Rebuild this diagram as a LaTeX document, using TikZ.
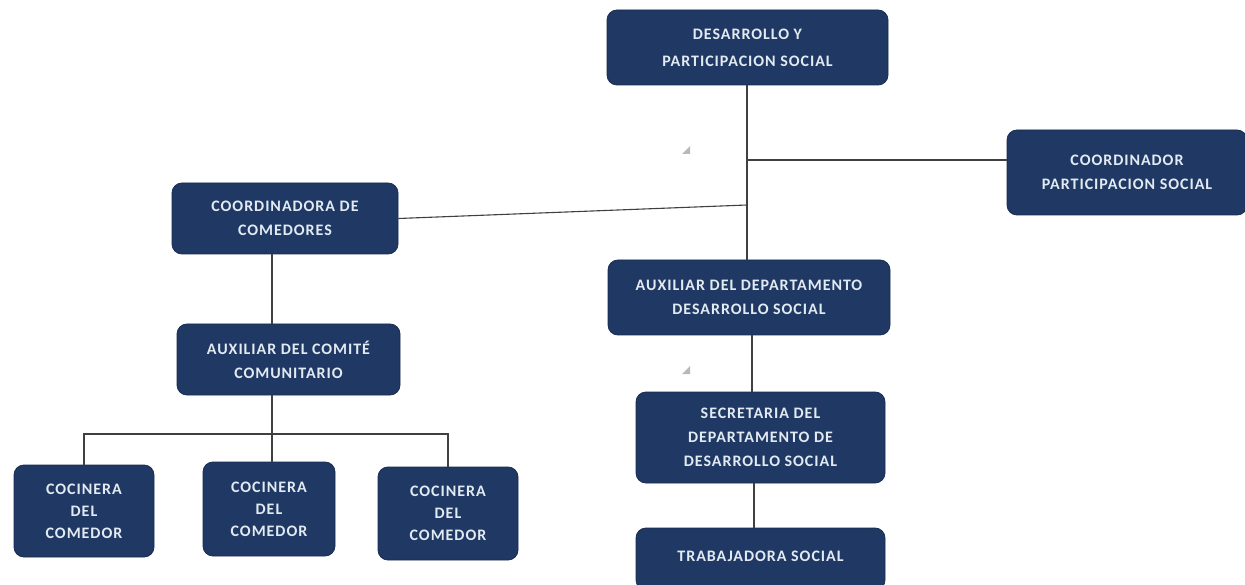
\documentclass[tikz,border=0pt]{standalone}
\usepackage{fontspec}
\setmainfont{Carlito}[LetterSpace=6]
\definecolor{navy}{HTML}{1F3864}
\definecolor{boxtext}{HTML}{E2EAF2}
\definecolor{linegray}{HTML}{404040}
\begin{document}
\begin{tikzpicture}[x=1pt,y=-1pt,
  orgbox/.style={draw=navy!80!black, line width=0.8pt, fill=navy, rounded corners=10pt,
    text=boxtext, font=\fontsize{16}{24}\selectfont\bfseries, align=center, inner sep=0pt},
  cookbox/.style={orgbox, font=\fontsize{16}{22}\selectfont\bfseries},
  link/.style={draw=linegray, line width=1.1pt}]
\useasboundingbox (0,0) rectangle (1245,585);
\fill[white] (0,0) rectangle (1245,585);
% boxes
\node[orgbox, minimum width=281pt, minimum height=75pt, font=\fontsize{16}{27}\selectfont\bfseries] (dps) at (747.5,47.5) {DESARROLLO Y\\PARTICIPACION SOCIAL};
\node[orgbox, minimum width=240pt, minimum height=85pt] (cps) at (1127,172.5) {COORDINADOR\\PARTICIPACION SOCIAL};
\node[orgbox, minimum width=226pt, minimum height=71pt] (cdc) at (285,218.5) {COORDINADORA DE\\COMEDORES};
\node[orgbox, minimum width=282pt, minimum height=75pt] (add) at (749,297.5) {AUXILIAR DEL DEPARTAMENTO\\DESARROLLO SOCIAL};
\node[orgbox, minimum width=223pt, minimum height=71pt] (acc) at (288.5,359.5) {AUXILIAR DEL COMITÉ\\COMUNITARIO};
\node[orgbox, minimum width=249pt, minimum height=91pt] (sec) at (760.5,437.5) {SECRETARIA DEL\\DEPARTAMENTO DE\\DESARROLLO SOCIAL};
\node[orgbox, minimum width=249pt, minimum height=62pt] (tra) at (760.5,559) {\raisebox{6pt}{TRABAJADORA SOCIAL}};
\node[cookbox, minimum width=140pt, minimum height=92pt] (co1) at (84,511) {COCINERA\\DEL\\COMEDOR};
\node[cookbox, minimum width=132pt, minimum height=94pt] (co2) at (269,509) {COCINERA\\DEL\\COMEDOR};
\node[cookbox, minimum width=140pt, minimum height=93pt] (co3) at (448,513.5) {COCINERA\\DEL\\COMEDOR};
% connectors
\coordinate (j1) at (747,160);
\coordinate (j2) at (747,205);
\coordinate (j3) at (272,434);
\draw[link] (dps.south -| j1) -- (add.north -| j1);
\draw[link] (j1) -- (cps.west |- j1);
\draw[link] (cdc.east) -- (j2);
\draw[link] (cdc.south -| j3) -- (acc.north -| j3);
\draw[link] (acc.south -| j3) -- (j3);
\draw[link] (j3) -| (co1.north);
\draw[link] (j3) -| (co3.north);
\draw[link] (j3) -- (co2.north -| j3);
\draw[link] (add.south -| 752,0) -- (sec.north -| 752,0);
\draw[link] (sec.south -| 754,0) -- (tra.north -| 754,0);
% small grey marks
\fill[gray!55] (690,146) -- (690,154) -- (682,154) -- cycle;
\fill[gray!55] (690,366) -- (690,374) -- (682,374) -- cycle;
\end{tikzpicture}
\end{document}
